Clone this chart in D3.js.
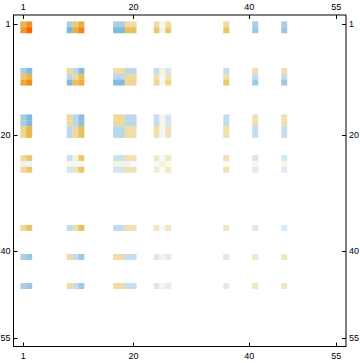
<!DOCTYPE html>
<meta charset="utf-8">
<style>
  body { margin: 0; background: #fff; }
  text { font: 9px "Liberation Sans", sans-serif; fill: #000; }
  .frame { fill: none; stroke: #000; stroke-width: 1px; }
  .tick { stroke: #000; stroke-width: 1px; }
</style>
<svg width="360" height="363"></svg>
<script src="https://d3js.org/d3.v7.min.js"></script>
<script>

  // matrix is 55 x 55, only these rows/cols hold non-zero entries
  var size = 55;
  var indices = [1, 2, 9, 10, 11, 17, 18, 19, 20, 24, 25, 26, 36, 41, 46];
  var tickLabels = [1, 20, 40, 55];

  // one row per entry of indices, columns in the same order
  var row1  = [0.65, 0.82, -0.38, 0.50, 0.70, -0.38, -0.38, 0.33, 0.33, 0.30, 0.06, 0.30, 0.33, -0.38, -0.38];
  var row2  = [0.80, 1.00, -0.66, 0.70, 0.88, -0.64, -0.64, 0.55, 0.55, 0.50, -0.07, 0.50, 0.52, -0.48, -0.48];
  var row9  = [-0.40, -0.62, 0.35, -0.28, -0.60, 0.30, 0.30, -0.28, -0.28, -0.24, 0.10, -0.16, -0.24, 0.25, 0.25];
  var row10 = [0.50, 0.64, -0.28, 0.35, 0.55, -0.28, -0.28, 0.35, 0.35, 0.25, -0.05, 0.22, 0.25, -0.24, -0.24];
  var row11 = [0.72, 0.85, -0.62, 0.55, 0.70, -0.60, -0.60, 0.40, 0.40, 0.40, 0.07, 0.40, 0.50, -0.45, -0.45];
  var row17 = [-0.40, -0.62, 0.35, -0.28, -0.56, 0.35, 0.35, -0.28, -0.28, -0.22, 0.07, -0.16, -0.24, 0.25, 0.25];
  var row18 = [-0.40, -0.62, 0.35, -0.28, -0.56, 0.35, 0.35, -0.28, -0.28, -0.22, 0.07, -0.16, -0.24, 0.25, 0.25];
  var row19 = [0.40, 0.62, -0.28, 0.35, 0.55, -0.28, -0.28, 0.30, 0.30, 0.25, -0.05, 0.22, 0.25, -0.22, -0.22];
  var row20 = [0.40, 0.62, -0.28, 0.35, 0.55, -0.28, -0.28, 0.30, 0.30, 0.25, -0.05, 0.22, 0.25, -0.22, -0.22];
  var row24 = [0.35, 0.50, -0.20, 0.10, 0.50, -0.20, -0.20, 0.25, 0.25, 0.18, -0.04, 0.18, 0.22, -0.16, -0.16];
  var row25 = [0.10, -0.06, 0.08, -0.06, 0.04, 0.09, 0.09, -0.07, -0.03, -0.04, 0.10, 0.05, -0.04, 0.07, 0.07];
  var row26 = [0.35, 0.50, -0.16, 0.22, 0.50, -0.16, -0.16, 0.22, 0.22, 0.14, 0.04, 0.16, 0.22, -0.12, -0.12];
  var row36 = [0.35, 0.52, -0.24, 0.30, 0.55, -0.24, -0.24, 0.25, 0.25, 0.18, -0.04, 0.18, 0.18, -0.14, -0.14];
  var row41 = [-0.38, -0.48, 0.30, -0.24, -0.45, 0.30, 0.30, -0.22, -0.22, -0.14, 0.08, -0.12, -0.14, 0.18, 0.18];
  var row46 = [-0.38, -0.48, 0.30, -0.24, -0.45, 0.30, 0.30, -0.22, -0.22, -0.14, 0.08, -0.12, -0.14, 0.18, 0.18];

  var rows = [row1, row2, row9, row10, row11, row17, row18, row19, row20,
    row24, row25, row26, row36, row41, row46];

  var svg = d3.select("svg");

  var frame = { left: 13.5, right: 346, top: 15, bottom: 346.5 };

  var x = d3.scaleLinear().domain([0.5, size + 0.5]).range([20.4, 339.2]);
  var y = d3.scaleLinear().domain([0.5, size + 0.5]).range([21.4, 341.2]);

  var color = d3.scaleLinear()
    .domain([-0.7, -0.4, -0.2, 0, 0.2, 0.4, 0.55, 0.7, 0.85, 1])
    .range(["#78b2d6", "#a6cde4", "#c8e0f0", "#ffffff", "#f0e4b8", "#f0d490",
      "#e8c060", "#e8b040", "#e89020", "#ff6400"])
    .clamp(true);

  var cells = [];
  rows.forEach(function (r, i) {
    r.forEach(function (v, j) {
      cells.push({ row: indices[i], col: indices[j], v: v });
    });
  });

  svg.append("g").selectAll("rect")
    .data(cells)
    .enter().append("rect")
    .attr("x", function (d) { return x(d.col - 0.5); })
    .attr("y", function (d) { return y(d.row - 0.5); })
    .attr("width", function (d) { return x(d.col + 0.5) - x(d.col - 0.5) + 0.2; })
    .attr("height", function (d) { return y(d.row + 0.5) - y(d.row - 0.5) + 0.2; })
    .attr("fill", function (d) { return color(d.v); });

  svg.append("rect")
    .attr("class", "frame")
    .attr("x", frame.left)
    .attr("y", frame.top)
    .attr("width", frame.right - frame.left)
    .attr("height", frame.bottom - frame.top);

  var tl = 4;
  var ticks = svg.append("g");
  tickLabels.forEach(function (t) {
    var px = Math.round(x(t)) + 0.5, py = Math.round(y(t)) + 0.5;
    ticks.append("line").attr("class", "tick")
      .attr("x1", px).attr("x2", px).attr("y1", frame.top).attr("y2", frame.top + tl);
    ticks.append("line").attr("class", "tick")
      .attr("x1", px).attr("x2", px).attr("y1", frame.bottom).attr("y2", frame.bottom - tl);
    ticks.append("line").attr("class", "tick")
      .attr("y1", py).attr("y2", py).attr("x1", frame.left).attr("x2", frame.left + tl);
    ticks.append("line").attr("class", "tick")
      .attr("y1", py).attr("y2", py).attr("x1", frame.right).attr("x2", frame.right - tl);

    ticks.append("text").attr("x", x(t)).attr("y", frame.top - 5)
      .attr("text-anchor", "middle").text(t);
    ticks.append("text").attr("x", x(t)).attr("y", frame.bottom + 12)
      .attr("text-anchor", "middle").text(t);
    ticks.append("text").attr("x", frame.left - 3).attr("y", y(t)).attr("dy", "0.35em")
      .attr("text-anchor", "end").text(t);
    ticks.append("text").attr("x", frame.right + 3).attr("y", y(t)).attr("dy", "0.35em")
      .attr("text-anchor", "start").text(t);
  });

</script>
